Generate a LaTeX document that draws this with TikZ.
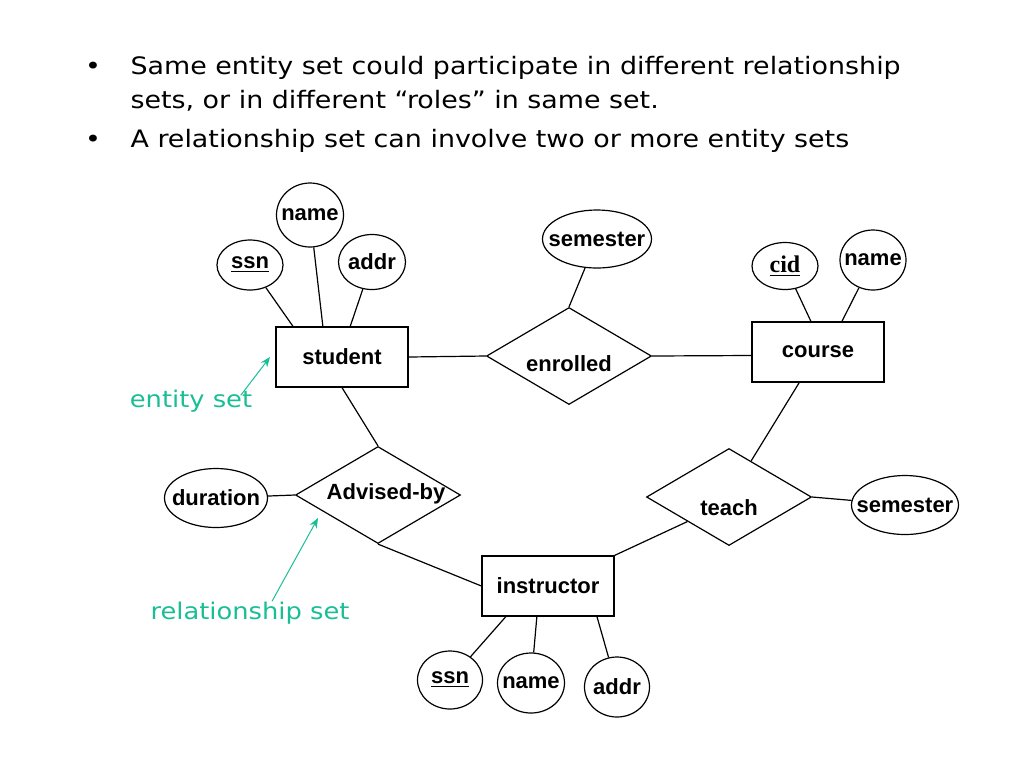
\documentclass[tikz,border=0pt]{standalone}
\usepackage{fontspec}
\setmainfont[FakeStretch=1.12]{DejaVu Sans}
\newfontfamily\erfont{Liberation Sans}
\newfontfamily\erserif{Liberation Serif}
\usetikzlibrary{shapes.geometric,arrows.meta}
\definecolor{notegreen}{RGB}{26,190,150}

\begin{document}
\begin{tikzpicture}[x=0.5pt,y=-0.5pt,line width=0.6pt,
	entity/.style={rectangle, draw, minimum width=66pt, minimum height=30pt, inner sep=0pt, font=\erfont\bfseries\fontsize{11}{13}\selectfont},
	rel/.style={diamond, draw, aspect=1.7, minimum width=82.5pt, minimum height=48.5pt, inner sep=0pt, font=\erfont\bfseries\fontsize{11}{13}\selectfont},
	attr/.style={ellipse, draw, minimum width=33pt, minimum height=29pt, inner xsep=-6pt, inner ysep=0pt, font=\erfont\bfseries\fontsize{11}{13}\selectfont},
	txt/.style={inner sep=0pt, anchor=base west, font=\fontsize{12}{14}\selectfont},
	note/.style={inner sep=0pt, text=notegreen, font=\fontsize{11.5}{14}\selectfont},
	notearrow/.style={draw=notegreen, line width=0.5pt, -{Stealth[length=5pt,width=4pt]}}]

\useasboundingbox (0,0) rectangle (1024,768);

% bullets
\node[inner sep=0pt, anchor=base, font=\fontsize{12}{14}\selectfont] (d1) at (93,74) {•};
\node[inner sep=0pt, anchor=base, font=\fontsize{12}{14}\selectfont] (d2) at (93,147) {•};
\node[txt] (b1) at (130,74) {Same entity set could participate in different relationship};
\node[txt] (b2) at (130,108) {sets, or in different “roles” in same set.};
\node[txt] (b3) at (130,147) {A relationship set can involve two or more entity sets};

% entity sets
\node[entity] (st) at (342,357) {student};
\node[entity] (co) at (818,352) {course};
\node[entity] (in) at (548,586) {instructor};

% relationship sets
\node[rel] (en) at (569,356) {\raisebox{-7.5pt}[0pt][0pt]{enrolled}};
\node[rel] (ad) at (378,495) {\raisebox{-2pt}[0pt][0pt]{\hspace{8pt}Advised-by}};
\node[rel] (te) at (729,497) {\raisebox{-9pt}[0pt][0pt]{teach}};

% attributes
\node[attr, minimum height=25pt] (sssn) at (250,265) {\underline{ssn}};
\node[attr, minimum width=33.5pt, minimum height=32pt] (sname) at (310,215) {name};
\node[attr, minimum width=33.5pt, minimum height=27.5pt] (saddr) at (372,262) {addr};
\node[attr, minimum width=54.5pt] (esem) at (597,239) {semester};
\node[attr, minimum height=23.5pt, font=\erserif\bfseries\fontsize{12}{14}\selectfont] (ccid) at (785,266) {\underline{cid}};
\node[attr, minimum height=30pt] (cname) at (873,260) {name};
\node[attr, minimum width=51.5pt, minimum height=29.5pt] (dur) at (216,498) {duration};
\node[attr, minimum width=53.5pt, minimum height=29.5pt] (tsem) at (905,505) {semester};
\node[attr, minimum width=32.5pt] (issn) at (450,680) {\underline{ssn}};
\node[attr, minimum width=33.5pt, minimum height=30pt] (iname) at (531,683) {name};
\node[attr, minimum width=32.5pt, minimum height=30pt] (iaddr) at (617,687) {addr};

\foreach \u/\v in {
sssn/st.148%
,sname/st.122%
,saddr/st.75%
,st.east/en.west%
,en.east/co.183%
,esem/en.north%
,ccid/co.103%
,cname/co.52%
,co/te%
,te.east/tsem%
,te.south west/in.north east%
,st.south/ad.north%
,ad.south/in.west%
,dur/ad.west%
,issn/in.216%
,iname/in.250%
,iaddr/in.328%
}{
	\draw (\u) -- (\v);
}

% notes
\node[note] (es) at (191,401) {entity set};
\node[note] (rs) at (250,613) {relationship set};
\coordinate (esp) at (270,357);
\coordinate (rsp) at (318,518);
\draw[notearrow] ([xshift=-6pt,yshift=-3pt]es.north east) -- (esp);
\draw[notearrow] ([xshift=11pt]rs.north) -- (rsp);

\end{tikzpicture}
\end{document}
